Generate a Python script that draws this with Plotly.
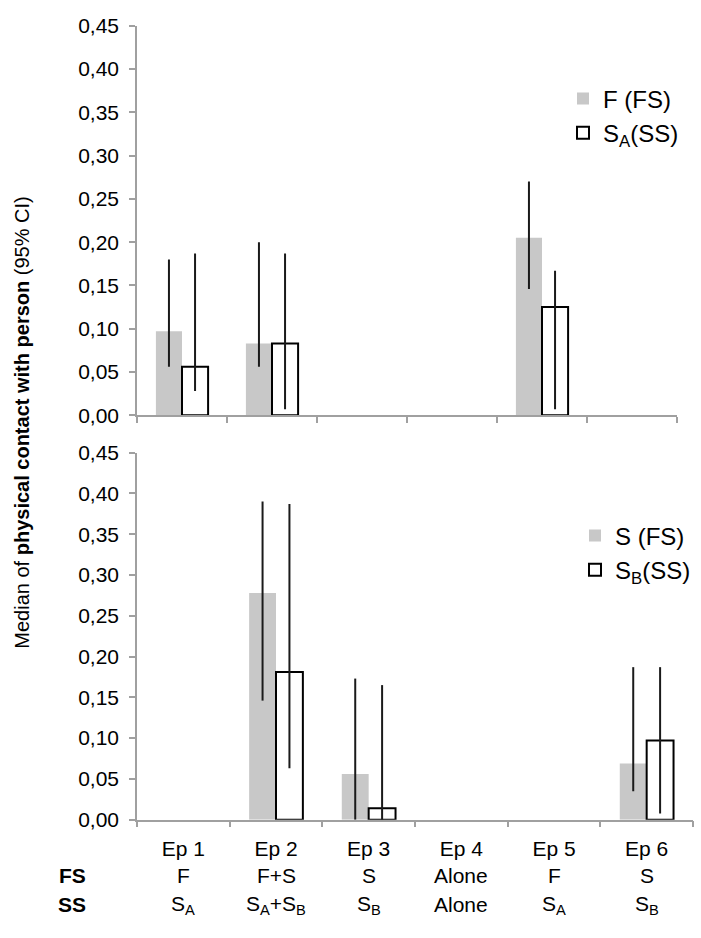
import plotly.graph_objects as go

W, H = 701, 938

episodes = ["Ep 1", "Ep 2", "Ep 3", "Ep 4", "Ep 5", "Ep 6"]
fs_row = ["F", "F+S", "S", "Alone", "F", "S"]
ss_row = ["S<sub>A</sub>", "S<sub>A</sub>+S<sub>B</sub>", "S<sub>B</sub>", "Alone", "S<sub>A</sub>", "S<sub>B</sub>"]

# Top panel: F (FS) and S_A (SS)
top_fs_val = [0.097, 0.083, None, None, 0.205, None]
top_fs_lo = [0.056, 0.056, None, None, 0.146, None]
top_fs_hi = [0.180, 0.200, None, None, 0.270, None]
top_ss_val = [0.056, 0.083, None, None, 0.125, None]
top_ss_lo = [0.028, 0.007, None, None, 0.007, None]
top_ss_hi = [0.187, 0.187, None, None, 0.167, None]

# Bottom panel: S (FS) and S_B (SS)
bot_fs_val = [None, 0.278, 0.056, None, None, 0.069]
bot_fs_lo = [None, 0.146, 0.0, None, None, 0.035]
bot_fs_hi = [None, 0.390, 0.173, None, None, 0.187]
bot_ss_val = [None, 0.181, 0.014, None, None, 0.097]
bot_ss_lo = [None, 0.063, 0.0, None, None, 0.0075]
bot_ss_hi = [None, 0.387, 0.165, None, None, 0.187]

y_ticks = [0.0, 0.05, 0.10, 0.15, 0.20, 0.25, 0.30, 0.35, 0.40, 0.45]

FONT = "Arial, Liberation Sans, sans-serif"
GRAY = "#C8C8C8"
AX = "#A0A0A0"
ERR = "#1a1a1a"


def plus(v, h):
    return [None if a is None else b - a for a, b in zip(v, h)]


def minus(v, l):
    return [None if a is None else a - b for a, b in zip(v, l)]


def err(v, l, h):
    return dict(type="data", symmetric=False, array=plus(v, h), arrayminus=minus(v, l),
                width=0, thickness=2, color=ERR, visible=True)


fig = go.Figure()
fig.add_trace(go.Bar(x=episodes, y=top_fs_val, name="F (FS)", marker=dict(color=GRAY, line=dict(width=0)),
                     error_y=err(top_fs_val, top_fs_lo, top_fs_hi), xaxis="x", yaxis="y", legend="legend"))
fig.add_trace(go.Bar(x=episodes, y=top_ss_val, name="S<sub>A</sub>(SS)",
                     marker=dict(color="white", line=dict(width=2, color="black")),
                     error_y=err(top_ss_val, top_ss_lo, top_ss_hi), xaxis="x", yaxis="y", legend="legend"))
fig.add_trace(go.Bar(x=episodes, y=bot_fs_val, name="S (FS)", marker=dict(color=GRAY, line=dict(width=0)),
                     error_y=err(bot_fs_val, bot_fs_lo, bot_fs_hi), xaxis="x2", yaxis="y2", legend="legend2"))
fig.add_trace(go.Bar(x=episodes, y=bot_ss_val, name="S<sub>B</sub>(SS)",
                     marker=dict(color="white", line=dict(width=2, color="black")),
                     error_y=err(bot_ss_val, bot_ss_lo, bot_ss_hi), xaxis="x2", yaxis="y2", legend="legend2"))


def px(x):
    return x / W


def py(y):
    return 1 - y / H


common_x = dict(type="category", categoryorder="array", categoryarray=episodes,
                showline=True, linecolor=AX, linewidth=1.5, ticks="outside", tickson="boundaries",
                ticklen=6, tickwidth=1.5, tickcolor=AX, showgrid=False, zeroline=False)
common_y = dict(range=[0, 0.45], tickvals=y_ticks, tickformat=".2f", showline=True, linecolor=AX,
                linewidth=1.5, ticks="outside", ticklen=6, tickwidth=1.5, tickcolor=AX,
                showgrid=False, zeroline=False, ticklabelstandoff=6,
                tickfont=dict(family=FONT, size=21, color="black"))

fig.update_layout(
    width=W, height=H, autosize=False,
    margin=dict(l=0, r=0, t=0, b=0),
    paper_bgcolor="white", plot_bgcolor="white",
    separators=",.",
    barmode="group", bargap=0.42, bargroupgap=0,
    font=dict(family=FONT, color="black"),
    xaxis=dict(domain=[px(137), px(677)], anchor="y", showticklabels=False, **common_x),
    yaxis=dict(domain=[py(413.5), py(14)], anchor="x", **common_y),
    xaxis2=dict(domain=[px(137), px(693)], anchor="y2", showticklabels=True,
                tickfont=dict(family=FONT, size=21, color="black"), ticklabelstandoff=9, **common_x),
    yaxis2=dict(domain=[py(828), py(451.7)], anchor="x2", **common_y),
    legend=dict(x=px(563), y=py(66), xanchor="left", yanchor="top", bgcolor="rgba(0,0,0,0)",
                font=dict(family=FONT, size=24, color="black"), tracegroupgap=0),
    legend2=dict(x=px(575), y=py(514), xanchor="left", yanchor="top", bgcolor="rgba(0,0,0,0)",
                 font=dict(family=FONT, size=24, color="black"), tracegroupgap=0),
    showlegend=True,
)

ann = []
ann.append(dict(text="Median of <b>physical contact with person</b> (95% CI)", textangle=-90,
                x=px(22), y=py(421), xref="paper", yref="paper", showarrow=False,
                font=dict(family=FONT, size=20, color="black"), xanchor="center", yanchor="middle"))
ann.append(dict(text="<b>FS</b>", x=px(72), y=py(885), xref="paper", yref="paper", showarrow=False,
                xanchor="center", yanchor="middle", font=dict(family=FONT, size=21, color="black")))
ann.append(dict(text="<b>SS</b>", x=px(72), y=py(915), xref="paper", yref="paper", showarrow=False,
                xanchor="center", yanchor="middle", font=dict(family=FONT, size=21, color="black")))
for ep, f, s in zip(episodes, fs_row, ss_row):
    ann.append(dict(text=f, x=ep, y=py(885), xref="x2", yref="paper", showarrow=False,
                    xanchor="center", yanchor="middle", font=dict(family=FONT, size=21, color="black")))
    ann.append(dict(text=s, x=ep, y=py(915), xref="x2", yref="paper", showarrow=False,
                    xanchor="center", yanchor="middle", font=dict(family=FONT, size=21, color="black")))
fig.update_layout(annotations=ann)

fig.write_html("out.html", config={"displayModeBar": False},
               post_script="document.body.style.margin='0px';")
